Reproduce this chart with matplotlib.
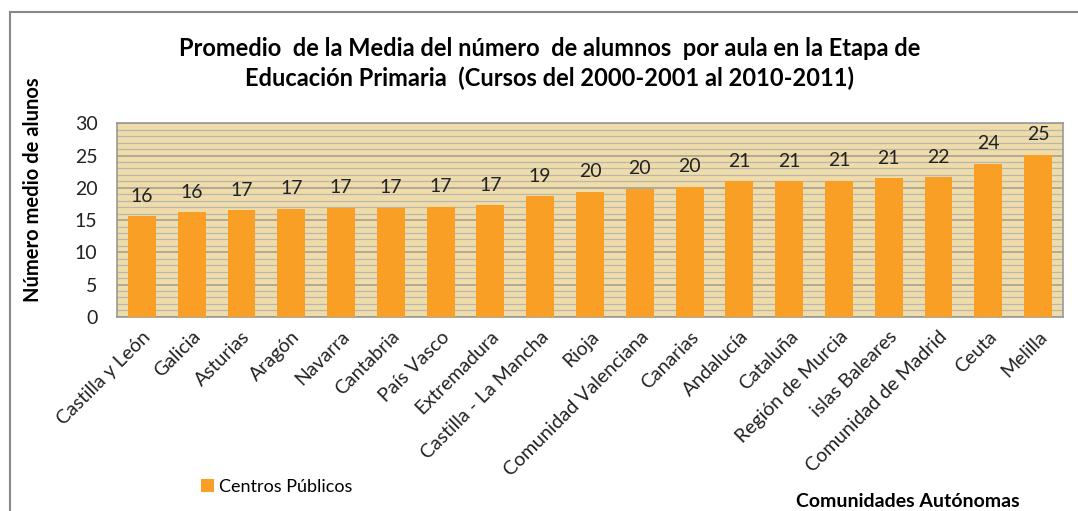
import matplotlib
matplotlib.use("Agg")
import matplotlib.pyplot as plt
from matplotlib.lines import Line2D
from matplotlib.ticker import MultipleLocator
import numpy as np

comunidades = ["Castilla y León", "Galicia", "Asturias", "Aragón", "Navarra",
               "Cantabria", "País Vasco", "Extremadura", "Castilla - La Mancha",
               "Rioja", "Comunidad Valenciana", "Canarias", "Andalucía",
               "Cataluña", "Región de Murcia", "islas Baleares",
               "Comunidad de Madrid", "Ceuta", "Melilla"]
valores = [15.6, 16.2, 16.5, 16.7, 16.9, 16.9, 17.1, 17.3, 18.7, 19.4, 19.8,
           20.2, 21.0, 21.0, 21.1, 21.5, 21.6, 23.7, 25.1]
etiquetas = ["16", "16", "17", "17", "17", "17", "17", "17", "19", "20", "20",
             "20", "21", "21", "21", "21", "22", "24", "25"]

plt.rcParams['font.family'] = ['Lato', 'DejaVu Sans']

fig = plt.figure(figsize=(10.78, 5.11), dpi=100)
ax = fig.add_axes([0.1085, 0.380, 0.8776, 0.3787])

x = np.arange(len(comunidades))
ax.set_facecolor('#EFDCA8')
bars = ax.bar(x, valores, width=0.56, color='#FA9F25', zorder=3,
              label='Centros Públicos')
for xi, v, t in zip(x, valores, etiquetas):
    ax.text(xi, v + 1.8, t, ha='center', va='bottom', fontsize=14,
            color='#222222', zorder=4)

ax.set_xlim(-0.5, len(comunidades) - 0.5)
ax.set_ylim(0, 30)
ax.yaxis.set_major_locator(MultipleLocator(5))
ax.yaxis.set_minor_locator(MultipleLocator(1))
ax.grid(axis='y', which='minor', color='#B8B6B0', linewidth=0.9, zorder=1)
ax.grid(axis='y', which='major', color='#A09C94', linewidth=1.1, zorder=1)
ax.tick_params(axis='both', which='both', length=0)
ax.tick_params(axis='y', labelsize=14, pad=14, colors='#222222')
ax.set_xticks(x)
ax.set_xticklabels(comunidades, rotation=45, ha='right',
                   rotation_mode='anchor', fontsize=14, color='#222222')
ax.tick_params(axis='x', pad=8)
for s in ax.spines.values():
    s.set_color('#999999')
    s.set_linewidth(1.2)

fig.text(0.5095, 0.905, "Promedio  de la Media del número  de alumnos  por aula en la Etapa de",
         ha='center', va='center', fontsize=17, fontweight='bold')
fig.text(0.5095, 0.847, "Educación Primaria  (Cursos del 2000-2001 al 2010-2011)",
         ha='center', va='center', fontsize=17, fontweight='bold')
fig.text(0.031, 0.628, "Número medio de alunos", rotation=90, ha='center',
         va='center', fontsize=14.5, fontweight='bold')
fig.text(0.842, 0.018, "Comunidades Autónomas", ha='center', va='center',
         fontsize=14, fontweight='bold')

ax.legend(loc='center', bbox_to_anchor=(0.169, -0.88), frameon=False,
          fontsize=13, handlelength=0.7, handleheight=0.7, handletextpad=0.3)

fig.add_artist(Line2D([0.0093, 1.0], [0.977, 0.977], color='#888888', lw=1.5))
fig.add_artist(Line2D([0.0093, 0.0093], [0.0, 0.977], color='#888888', lw=1.5))

fig.savefig('out.png', dpi=100)
